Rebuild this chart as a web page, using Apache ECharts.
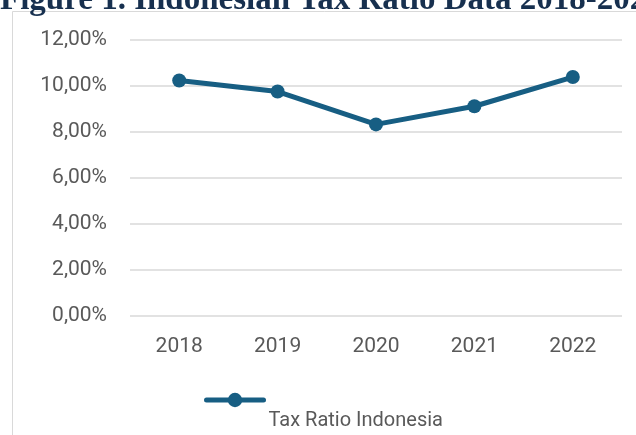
<!DOCTYPE html>
<html><head><meta charset="utf-8">
<script src="https://cdn.jsdelivr.net/npm/echarts@6/dist/echarts.min.js"></script>
<style>html,body{margin:0;padding:0;background:#fff}#c{width:636px;height:435px}</style>
</head><body><div id="c"></div>
<script>
const titleText = 'Figure 1. Indonesian Tax Ratio Data 2018-2022';
const years = ['2018','2019','2020','2021','2022'];
const taxRatio = [10.24, 9.76, 8.33, 9.12, 10.39];
const seriesName = 'Tax Ratio Indonesia';
const yMin = 0, yMax = 12, yStep = 2;

const chart = echarts.init(document.getElementById('c'));
const font = 'Roboto';
const navy = '#175e83';
chart.setOption({
  animation: false,
  backgroundColor: '#fff',
  title: {
    text: titleText, left: -5, top: -21,
    textStyle: {fontFamily: 'Liberation Serif', fontWeight: 'bold', fontSize: 33, color: '#17304f'}
  },
  graphic: [{
    type: 'rect', left: 12, top: 11, z: -1,
    shape: {width: 700, height: 500},
    style: {fill: '#fff', stroke: '#d9d9d9', lineWidth: 1}
  }],
  grid: {left: 130, right: 14, top: 40, bottom: 435 - 316},
  xAxis: {
    type: 'category', data: years, boundaryGap: true,
    axisLine: {show: false}, axisTick: {show: false},
    axisLabel: {color: '#595959', fontFamily: font, fontSize: 21, margin: 20}
  },
  yAxis: {
    type: 'value', min: yMin, max: yMax, interval: yStep,
    axisLine: {show: false}, axisTick: {show: false},
    splitLine: {lineStyle: {color: '#d9d9d9', width: 1.5}},
    axisLabel: {color: '#595959', fontFamily: font, fontSize: 21, margin: 23,
      formatter: v => v.toFixed(2).replace('.', ',') + '%'}
  },
  legend: {
    left: 199, top: 353, itemWidth: 57, itemHeight: 18, itemGap: 0,
    data: [seriesName],
    lineStyle: {width: 5, cap: 'round'},
    textStyle: {color: '#595959', fontFamily: font, fontSize: 20, lineHeight: 42},
    formatter: n => '\n' + n
  },
  series: [{
    name: seriesName, type: 'line', data: taxRatio,
    symbol: 'circle', symbolSize: 14,
    lineStyle: {color: navy, width: 5},
    itemStyle: {color: navy}
  }]
});
</script></body></html>
